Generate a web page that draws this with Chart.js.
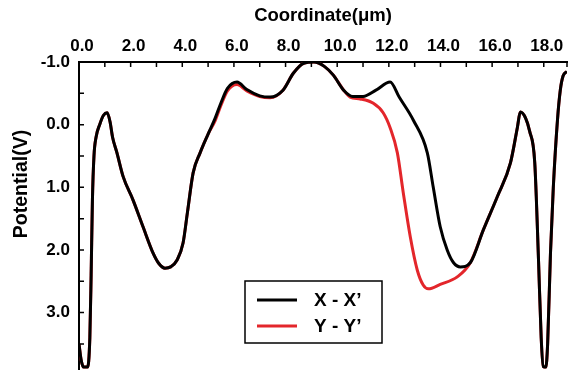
<!DOCTYPE html>
<html>
<head>
<meta charset="utf-8">
<script src="https://cdn.jsdelivr.net/npm/chart.js@4"></script>
<style>
  body { margin: 0; background: #fff; }
  canvas { display: block; }
</style>
</head>
<body>
<canvas id="chart" width="575" height="371"></canvas>
<script>
// --- DATA ---
const xTitle = 'Coordinate(μm)';
const yTitle = 'Potential(V)';
const seriesNames = ['X - X’', 'Y - Y’'];

const xxX = [0.0, 0.08, 0.18, 0.33, 0.42, 0.47, 0.52, 0.58, 0.66, 0.8, 0.95, 1.09, 1.2, 1.3, 1.47, 1.71, 2.09, 2.48, 2.87, 3.1, 3.33, 3.55, 3.8, 4.03, 4.2, 4.42, 4.69, 5.0, 5.27, 5.5, 5.75, 6.12, 6.5, 7.0, 7.4, 7.9, 8.3, 8.7, 9.1, 9.5, 9.85, 10.25, 10.6, 11.0, 11.5, 12.05, 12.4, 12.95, 13.49, 13.72, 13.99, 14.26, 14.5, 14.77, 15.16, 15.66, 16.2, 16.71, 16.98, 17.09, 17.3, 17.45, 17.65, 17.8, 17.9, 17.98, 18.08, 18.15, 18.26, 18.37, 18.53, 18.64, 18.75, 18.9];
const xxY = [3.5, 3.75, 3.87, 3.87, 3.4, 2.4, 1.2, 0.5, 0.2, 0.0, -0.15, -0.19, -0.05, 0.2, 0.45, 0.83, 1.2, 1.63, 2.05, 2.22, 2.29, 2.27, 2.16, 1.89, 1.4, 0.77, 0.45, 0.15, -0.1, -0.35, -0.58, -0.68, -0.56, -0.46, -0.44, -0.55, -0.82, -0.98, -1.0, -0.93, -0.79, -0.55, -0.45, -0.45, -0.55, -0.68, -0.44, -0.07, 0.45, 1.0, 1.63, 2.0, 2.2, 2.27, 2.2, 1.68, 1.15, 0.61, 0.04, -0.2, -0.1, 0.1, 0.6, 2.2, 3.4, 3.86, 3.87, 3.5, 2.05, 1.0, -0.07, -0.55, -0.78, -0.85];

const yyX = [0.0, 0.08, 0.18, 0.33, 0.42, 0.47, 0.52, 0.58, 0.66, 0.8, 0.95, 1.09, 1.2, 1.3, 1.47, 1.71, 2.09, 2.48, 2.87, 3.1, 3.33, 3.55, 3.8, 4.03, 4.2, 4.42, 4.69, 5.0, 5.27, 5.5, 5.75, 6.12, 6.5, 7.0, 7.4, 7.9, 8.3, 8.7, 9.1, 9.5, 9.85, 10.25, 10.5, 10.89, 11.4, 11.78, 12.05, 12.33, 12.56, 12.83, 13.1, 13.33, 13.53, 13.99, 14.65, 15.16, 15.66, 16.2, 16.71, 16.98, 17.09, 17.3, 17.45, 17.65, 17.8, 17.9, 17.98, 18.08, 18.15, 18.26, 18.37, 18.53, 18.64, 18.75, 18.9];
const yyY = [3.5, 3.75, 3.87, 3.87, 3.4, 2.4, 1.2, 0.5, 0.2, 0.0, -0.15, -0.19, -0.05, 0.2, 0.45, 0.83, 1.2, 1.63, 2.05, 2.22, 2.29, 2.27, 2.16, 1.89, 1.4, 0.77, 0.45, 0.15, -0.06, -0.31, -0.54, -0.64, -0.54, -0.45, -0.43, -0.55, -0.82, -0.98, -1.0, -0.93, -0.79, -0.55, -0.44, -0.41, -0.34, -0.19, 0.05, 0.45, 1.09, 1.79, 2.32, 2.56, 2.62, 2.55, 2.43, 2.2, 1.68, 1.15, 0.61, 0.04, -0.2, -0.1, 0.1, 0.6, 2.2, 3.4, 3.86, 3.87, 3.5, 2.05, 1.0, -0.07, -0.55, -0.78, -0.85];

const seriesColors = ['#000000', '#e3262b'];

// --- HELPERS ---
const toPoints = (xs, ys) => xs.map((x, i) => ({ x: x, y: ys[i] }));
const FONT = "'Liberation Sans', Arial, sans-serif";

// inward tick marks on top and left axes, plus the y title
const innerTicks = {
    id: 'innerTicks',
    afterDraw(chart) {
        const ctx = chart.ctx;
        const area = chart.chartArea;
        const xs = chart.scales.x;
        const ys = chart.scales.y;
        ctx.save();
        ctx.strokeStyle = '#000';
        ctx.lineWidth = 1.5;
        ctx.beginPath();
        xs.ticks.forEach(t => {
            const px = xs.getPixelForValue(t.value);
            ctx.moveTo(px, area.top);
            ctx.lineTo(px, area.top + 5);
        });
        ctx.moveTo(area.right, area.top);
        ctx.lineTo(area.right, area.top + 5);
        ys.ticks.forEach(t => {
            const py = ys.getPixelForValue(t.value);
            ctx.moveTo(area.left, py);
            ctx.lineTo(area.left + 5, py);
        });
        ctx.stroke();

        ctx.translate(22, 184);
        ctx.rotate(-Math.PI / 2);
        ctx.fillStyle = '#000';
        ctx.font = 'bold 19.5px ' + FONT;
        ctx.textAlign = 'center';
        ctx.textBaseline = 'middle';
        ctx.fillText(yTitle, 0, 0);
        ctx.restore();
    }
};

// boxed legend inside the plot
const boxLegend = {
    id: 'boxLegend',
    afterDraw(chart) {
        const ctx = chart.ctx;
        ctx.save();
        ctx.fillStyle = '#fff';
        ctx.fillRect(245, 281, 137, 62);
        ctx.strokeStyle = '#000';
        ctx.lineWidth = 1.5;
        ctx.strokeRect(245, 281, 137, 62);
        ctx.font = 'bold 19px ' + FONT;
        ctx.textBaseline = 'middle';
        chart.data.datasets.forEach((ds, i) => {
            const y = 300 + i * 26;
            ctx.strokeStyle = ds.borderColor;
            ctx.lineWidth = 3;
            ctx.beginPath();
            ctx.moveTo(257, y);
            ctx.lineTo(297, y);
            ctx.stroke();
            ctx.fillStyle = '#000';
            ctx.fillText(ds.label, 314, y + 1);
        });
        ctx.restore();
    }
};

new Chart(document.getElementById('chart'), {
    type: 'line',
    data: {
        datasets: [
            { label: seriesNames[0], data: toPoints(xxX, xxY), borderColor: seriesColors[0], borderWidth: 3 },
            { label: seriesNames[1], data: toPoints(yyX, yyY), borderColor: seriesColors[1], borderWidth: 3 }
        ]
    },
    options: {
        responsive: false,
        animation: false,
        layout: { padding: { right: 8, bottom: 2, left: 0, top: 0 } },
        elements: {
            point: { radius: 0 },
            line: { cubicInterpolationMode: 'monotone', fill: false }
        },
        scales: {
            x: {
                type: 'linear',
                position: 'top',
                min: 0,
                max: 18.9,
                afterFit: s => { s.height = 62; s.paddingLeft = 0; s.paddingRight = 0; },
                grid: { drawOnChartArea: false, drawTicks: false },
                border: { display: true, color: '#000', width: 2 },
                title: {
                    display: true,
                    text: xTitle,
                    color: '#000',
                    font: { family: FONT, size: 18.5, weight: 'bold' },
                    padding: { top: 5, bottom: 0 }
                },
                ticks: {
                    stepSize: 1,
                    includeBounds: false,
                    padding: 5,
                    labelOffset: 3,
                    maxRotation: 0,
                    autoSkip: false,
                    color: '#000',
                    font: { family: FONT, size: 17, weight: 'bold' },
                    callback: v => (Math.abs(v % 2) < 1e-6 ? v.toFixed(1) : '')
                }
            },
            y: {
                type: 'linear',
                reverse: true,
                min: -1,
                max: 3.9,
                afterFit: s => { s.width = 79; s.paddingTop = 0; s.paddingBottom = 0; },
                grid: { drawOnChartArea: false, drawTicks: false },
                border: { display: true, color: '#000', width: 2 },
                ticks: {
                    stepSize: 0.5,
                    includeBounds: false,
                    padding: 9,
                    autoSkip: false,
                    color: '#000',
                    font: { family: FONT, size: 17, weight: 'bold' },
                    callback: v => (Math.abs(v % 1) < 1e-6 ? v.toFixed(1) : '')
                }
            }
        },
        plugins: {
            legend: { display: false },
            tooltip: { enabled: false }
        }
    },
    plugins: [innerTicks, boxLegend]
});
</script>
</body>
</html>
